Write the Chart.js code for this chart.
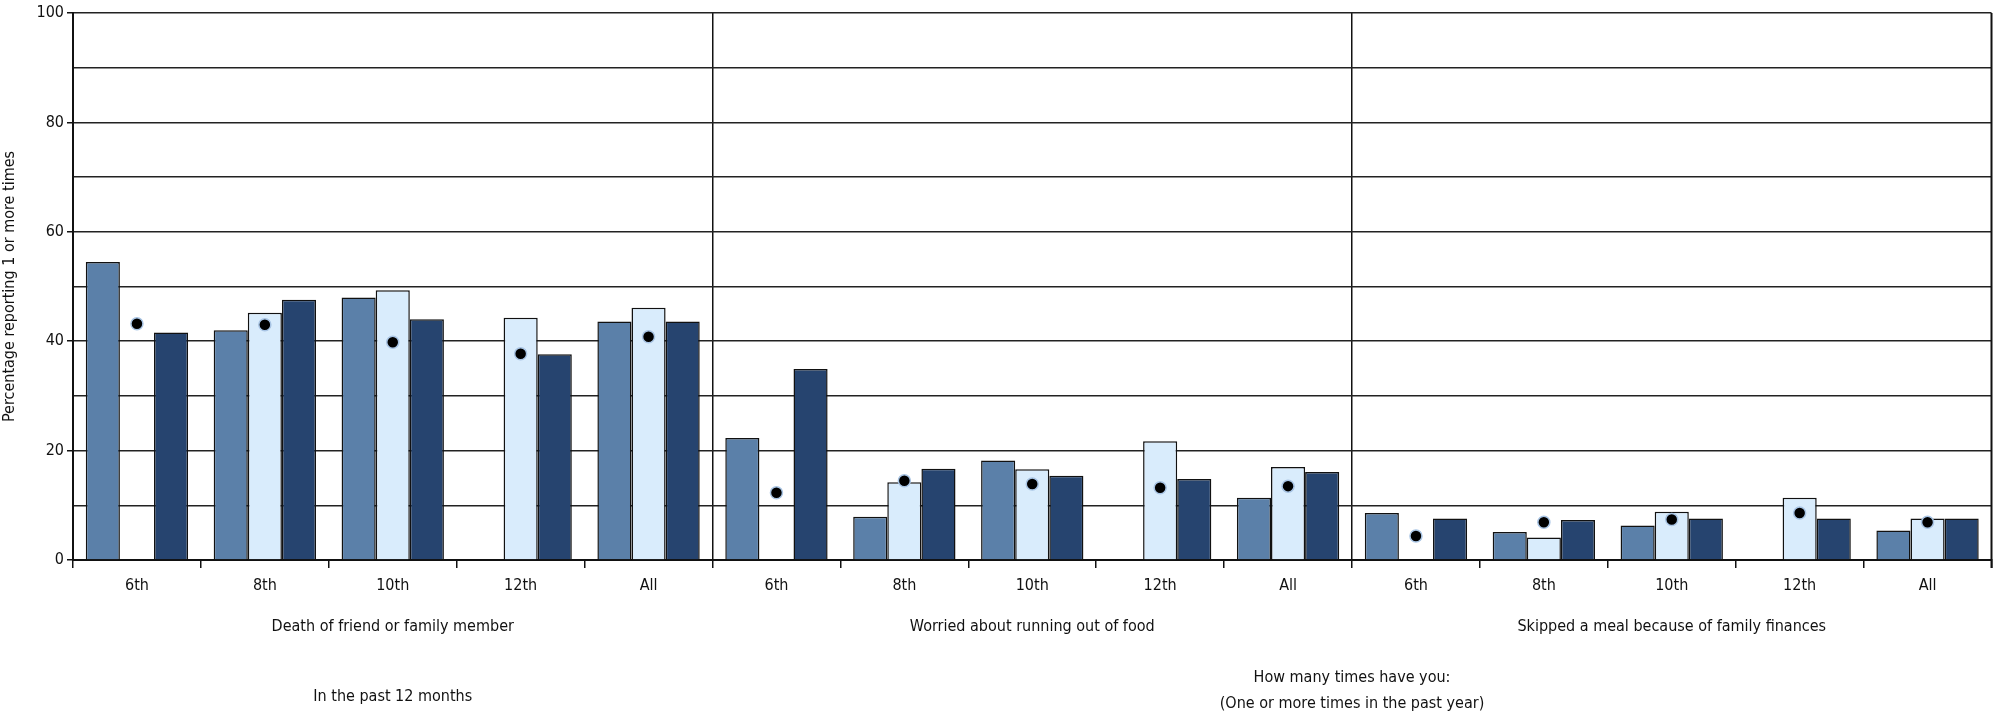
<!DOCTYPE html>
<html>
<head>
<meta charset="utf-8">
<script src="https://cdn.jsdelivr.net/npm/chart.js@4.4.1/dist/chart.umd.min.js"></script>
<style>
  html, body { margin: 0; padding: 0; background: #fff; }
  #wrap { width: 1999px; height: 723px; }
</style>
</head>
<body>
<div id="wrap"><canvas id="chart" width="1999" height="723"></canvas></div>
<script>
const FONT = '"Liberation Sans Narrow", "DejaVu Sans Condensed", "Roboto Condensed", sans-serif';

// tick labels and panel names
const grades = ["6th", "8th", "10th", "12th", "All"];
const panelNames = ["Death of friend or family member", "Worried about running out of food", "Skipped a meal because of family finances"];
const labels = [...grades, ...grades, ...grades];

// series values (percent), null = no bar
const seriesA = [54.5, 42.0, 48.0, null, 43.6,   22.3, 7.9, 18.2, null, 11.4,   8.6, 5.1, 6.3, null, 5.4];
const seriesB = [null, 45.2, 49.3, 44.3, 46.1,   null, 14.2, 16.6, 21.7, 17.0,  null, 4.1, 8.8, 11.4, 7.6];
const seriesC = [41.6, 47.6, 44.0, 37.6, 43.6,   34.9, 16.7, 15.4, 14.8, 16.1,  7.6, 7.3, 7.6, 7.6, 7.6];
const dots    = [43.2, 43.0, 39.8, 37.7, 40.8,   12.3, 14.5, 13.9, 13.2, 13.5,  4.4, 6.9, 7.4, 8.6, 6.9];

const groupLabels = {
  id: "groupLabels",
  afterDraw(chart) {
    const x = chart.scales.x;
    const area = chart.chartArea;
    const c = chart.ctx;
    c.save();
    // right border of the last panel
    c.strokeStyle = "#111";
    c.lineWidth = 2;
    c.beginPath();
    c.moveTo(area.right, area.top);
    c.lineTo(area.right, area.bottom + 8);
    c.stroke();

    c.fillStyle = "#111";
    c.font = "16px " + FONT;
    c.textAlign = "center";
    c.textBaseline = "middle";
    const edge = i => (x.getPixelForValue(i) + x.getPixelForValue(i - 1)) / 2;
    const bounds = [area.left, edge(5), edge(10), area.right];
    panelNames.forEach((t, i) => {
      c.fillText(t, (bounds[i] + bounds[i + 1]) / 2, 627);
    });
    c.fillText("In the past 12 months", (bounds[0] + bounds[1]) / 2, 697);
    c.fillText("How many times have you:", (bounds[1] + bounds[3]) / 2, 678);
    c.fillText("(One or more times in the past year)", (bounds[1] + bounds[3]) / 2, 704);
    c.restore();
  }
};

new Chart(document.getElementById("chart"), {
  data: {
    labels: labels,
    datasets: [
      {
        type: "line", data: dots, showLine: false,
        pointRadius: 6, pointHoverRadius: 6,
        pointBackgroundColor: "#000", pointBorderColor: "#a8c4e4", pointBorderWidth: 1.5,
        order: 0
      },
      { type: "bar", data: seriesA, backgroundColor: "#5b80a9", borderColor: "#111", borderWidth: 1.5, order: 1 },
      { type: "bar", data: seriesB, backgroundColor: "#d9ecfc", borderColor: "#111", borderWidth: 1.5, order: 1 },
      { type: "bar", data: seriesC, backgroundColor: "#26446f", borderColor: "#111", borderWidth: 1.5, order: 1 }
    ]
  },
  options: {
    responsive: false,
    animation: false,
    layout: { padding: { top: 13, right: 6, bottom: 0, left: 0 } },
    datasets: { bar: { categoryPercentage: 0.8, barPercentage: 1.0 } },
    plugins: { legend: { display: false }, tooltip: { enabled: false } },
    scales: {
      x: {
        offset: true,
        afterFit: s => { s.height = 163; },
        border: { color: "#111", width: 2 },
        grid: {
          offset: true,
          color: ctx => (ctx.index % 5 === 0 ? "#111" : "rgba(0,0,0,0)"),
          lineWidth: 1.5,
          tickColor: "#111",
          tickLength: 8,
          drawOnChartArea: true
        },
        ticks: { color: "#111", font: { family: FONT, size: 16 }, padding: 8, maxRotation: 0, autoSkip: false }
      },
      y: {
        min: 0, max: 100,
        afterFit: s => { s.width = 73; },
        border: { color: "#111", width: 2 },
        grid: {
          color: "#222", lineWidth: 1.5, tickLength: 6,
          tickColor: ctx => (ctx.tick && ctx.tick.value % 20 === 0 ? "#111" : "rgba(0,0,0,0)")
        },
        ticks: {
          stepSize: 10,
          color: "#111",
          padding: 3,
          font: { family: FONT, size: 16 },
          callback: v => (v % 20 === 0 ? v : "")
        },
        title: {
          display: true,
          text: "Percentage reporting 1 or more times",
          color: "#111",
          font: { family: FONT, size: 16 },
          padding: { top: 0, bottom: 2 }
        }
      }
    }
  },
  plugins: [groupLabels]
});
</script>
</body>
</html>
